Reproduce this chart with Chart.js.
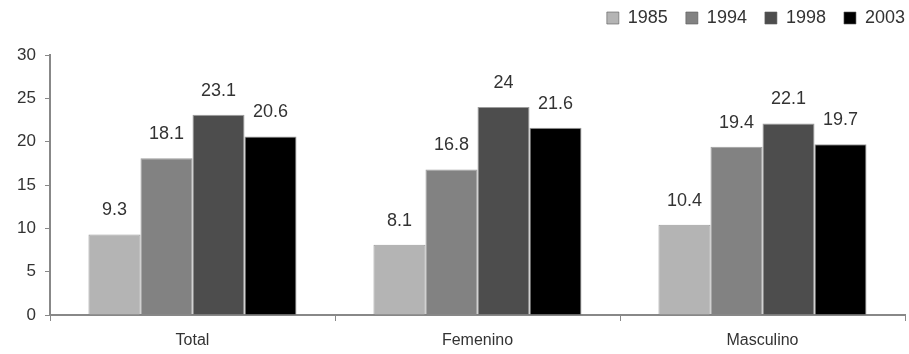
<!DOCTYPE html>
<html>
<head>
<meta charset="utf-8">
<script src="https://cdn.jsdelivr.net/npm/chart.js@4/dist/chart.umd.min.js"></script>
<style>
  html, body { margin: 0; padding: 0; background: #fff; }
  #wrap { width: 909px; height: 354px; }
</style>
</head>
<body>
<div id="wrap"><canvas id="chart"></canvas></div>
<script>
// data
categories = ["Total", "Femenino", "Masculino"];
years = ["1985", "1994", "1998", "2003"];
values1985 = [9.3, 8.1, 10.4];
values1994 = [18.1, 16.8, 19.4];
values1998 = [23.1, 24, 22.1];
values2003 = [20.6, 21.6, 19.7];
yTicks = [0, 5, 10, 15, 20, 25, 30];
barColors = ["#b4b4b4", "#828282", "#4d4d4d", "#000000"];
const FONT = "'Liberation Sans', Arial, sans-serif";
const LEGEND_PAD = 18;

// draw the value above each bar
const valueLabels = {
    id: "valueLabels",
    afterDatasetsDraw(chart) {
        let ctx = chart.ctx;
        ctx.save();
        ctx.font = "18px " + FONT;
        ctx.fillStyle = "#333";
        ctx.textAlign = "center";
        ctx.textBaseline = "alphabetic";
        chart.data.datasets.forEach((ds, i) => {
            chart.getDatasetMeta(i).data.forEach((bar, j) => {
                ctx.fillText(String(ds.data[j]), bar.x, bar.y - 19);
            });
        });
        ctx.restore();
    }
};

// legend: fixed height so the plot top lands at y=55, drawn nudged to the corner
Chart.register({
    id: "legendSpace",
    beforeInit(chart) {
        let lg = chart.legend;
        if (!lg) return;
        let fit = lg.fit, draw = lg.draw;
        lg.fit = function () {
            fit.bind(lg)();
            this.height = 55;
        };
        lg.draw = function () {
            let ctx = chart.ctx;
            ctx.save();
            ctx.translate(LEGEND_PAD, -9);
            draw.bind(lg)();
            ctx.restore();
        };
    }
});

function main() {
    let all = [values1985, values1994, values1998, values2003];
    let datasets = years.map((y, i) => ({
        label: y,
        data: all[i],
        backgroundColor: barColors[i],
        borderColor: "rgba(90,90,90,0.6)",
        borderWidth: 1,
        categoryPercentage: 0.73,
        barPercentage: 1.0
    }));
    let r = document.getElementById("chart").getContext("2d");
    new Chart(r, {
        type: "bar",
        data: { labels: categories, datasets: datasets },
        plugins: [valueLabels],
        options: {
            responsive: true,
            maintainAspectRatio: false,
            animation: false,
            layout: { padding: { top: 0, right: 4, left: 0, bottom: 0 } },
            plugins: {
                tooltip: { enabled: false },
                legend: {
                    position: "top",
                    align: "end",
                    labels: {
                        boxWidth: 12,
                        boxHeight: 12,
                        padding: LEGEND_PAD,
                        color: "#333",
                        font: { size: 18, family: FONT }
                    }
                }
            },
            scales: {
                x: {
                    grid: { drawOnChartArea: false, tickLength: 6, color: "#888", offset: true },
                    border: { color: "#888", width: 2 },
                    ticks: { color: "#333", padding: 10, font: { size: 16, family: FONT } },
                    afterFit: s => { s.height = 39; }
                },
                y: {
                    min: 0,
                    max: 30,
                    afterBuildTicks: s => { s.ticks = yTicks.map(v => ({ value: v })); },
                    grid: { drawOnChartArea: false, tickLength: 5, color: "#888" },
                    border: { color: "#888", width: 2 },
                    ticks: { color: "#333", padding: 9, font: { size: 17, family: FONT } },
                    afterFit: s => { s.width = 50; }
                }
            }
        }
    });
}
main();
</script>
</body>
</html>
